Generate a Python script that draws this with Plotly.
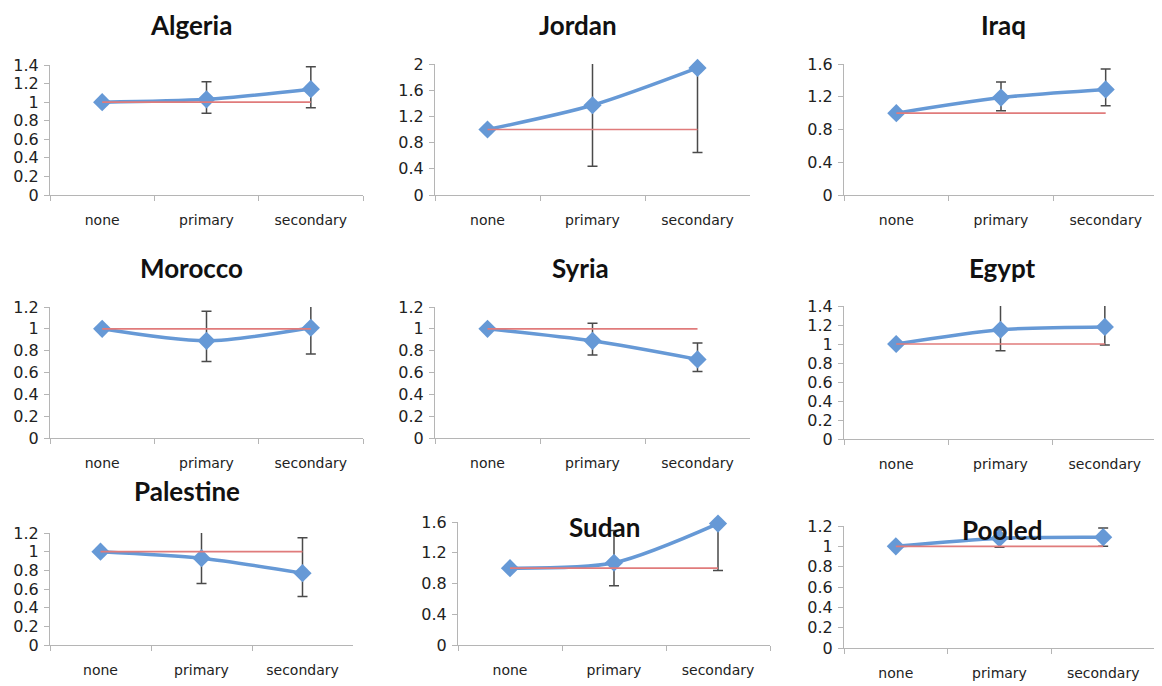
import plotly.graph_objects as go

categories = ["none", "primary", "secondary"]

countries = ["Algeria", "Jordan", "Iraq", "Morocco", "Syria", "Egypt", "Palestine", "Sudan", "Pooled"]

algeria_est = [1.0, 1.03, 1.14]
algeria_lo = [1.0, 0.88, 0.94]
algeria_hi = [1.0, 1.22, 1.38]

jordan_est = [1.0, 1.37, 1.94]
jordan_lo = [1.0, 0.44, 0.65]
jordan_hi = [1.0, 2.3, 2.9]

iraq_est = [1.0, 1.19, 1.29]
iraq_lo = [1.0, 1.03, 1.09]
iraq_hi = [1.0, 1.38, 1.54]

morocco_est = [1.0, 0.89, 1.01]
morocco_lo = [1.0, 0.70, 0.77]
morocco_hi = [1.0, 1.16, 1.32]

syria_est = [1.0, 0.89, 0.72]
syria_lo = [1.0, 0.76, 0.61]
syria_hi = [1.0, 1.05, 0.87]

egypt_est = [1.0, 1.15, 1.18]
egypt_lo = [1.0, 0.93, 0.99]
egypt_hi = [1.0, 1.45, 1.45]

palestine_est = [1.0, 0.93, 0.77]
palestine_lo = [1.0, 0.66, 0.52]
palestine_hi = [1.0, 1.30, 1.15]

sudan_est = [1.0, 1.07, 1.58]
sudan_lo = [1.0, 0.77, 0.97]
sudan_hi = [1.0, 1.49, 2.5]

pooled_est = [1.0, 1.08, 1.09]
pooled_lo = [1.0, 0.99, 1.00]
pooled_hi = [1.0, 1.16, 1.18]

reference = [1.0, 1.0, 1.0]

series = [
    (algeria_est, algeria_lo, algeria_hi),
    (jordan_est, jordan_lo, jordan_hi),
    (iraq_est, iraq_lo, iraq_hi),
    (morocco_est, morocco_lo, morocco_hi),
    (syria_est, syria_lo, syria_hi),
    (egypt_est, egypt_lo, egypt_hi),
    (palestine_est, palestine_lo, palestine_hi),
    (sudan_est, sudan_lo, sudan_hi),
    (pooled_est, pooled_lo, pooled_hi),
]

y_max = [1.4, 2.0, 1.6, 1.2, 1.2, 1.4, 1.2, 1.6, 1.2]
y_step = [0.2, 0.4, 0.4, 0.2, 0.2, 0.2, 0.2, 0.4, 0.2]

# pixel boxes (left, right, top, bottom) for plot areas, in screen pixels
W, H = 1162, 686
OFF = 8  # page body margin
boxes = [
    (50, 363, 65, 195), (435, 750, 64, 195), (844, 1158, 64, 195),
    (50, 363, 307, 438), (435, 750, 307, 438), (844, 1157, 306, 439),
    (50, 353, 533, 645), (458, 770, 522, 645), (844, 1155, 526, 648),
]
title_pos = [
    (191, 25), (578, 25), (1003, 25),
    (191, 268), (580, 268), (1002, 268),
    (187, 491), (604, 527), (1002, 530),
]

BLUE = "#6699d6"
RED = "#e07b7b"
AX = "#b5b5b5"

fig = go.Figure()
layout = dict(
    template="none",
    width=W, height=H, margin=dict(l=0, r=0, t=0, b=0, pad=0, autoexpand=False),
    paper_bgcolor="white", plot_bgcolor="white", showlegend=False,
    annotations=[],
)

for i, name in enumerate(countries):
    est, lo, hi = series[i]
    suf = "" if i == 0 else str(i + 1)
    xa, ya = "x" + suf, "y" + suf
    l, r, t, b = [v - OFF for v in boxes[i]]
    layout["xaxis" + suf] = dict(
        domain=[l / W, r / W], anchor=ya, type="category", automargin=False,
        range=[-0.5, 2.5], showline=True, linecolor=AX, linewidth=1,
        ticks="outside", tickson="boundaries", ticklen=5, tickcolor=AX,
        showgrid=False, zeroline=False, fixedrange=True,
        tickfont=dict(family="DejaVu Sans", size=14, color="#222"),
        ticklabelstandoff=12,
    )
    layout["yaxis" + suf] = dict(
        domain=[1 - b / H, 1 - t / H], anchor=xa, automargin=False,
        range=[0, y_max[i]], dtick=y_step[i], tick0=0,
        showline=True, linecolor=AX, linewidth=1,
        ticks="outside", ticklen=5, tickcolor=AX,
        showgrid=False, zeroline=False, fixedrange=True,
        tickfont=dict(family="DejaVu Sans", size=16, color="#222"),
        ticklabelstandoff=2,
    )
    # error bars (clipped to plot area)
    fig.add_trace(go.Scatter(
        x=categories, y=est, xaxis=xa, yaxis=ya, mode="markers",
        marker=dict(size=0.1, color="rgba(0,0,0,0)"),
        error_y=dict(type="data", symmetric=False,
                     array=[h - e for h, e in zip(hi, est)],
                     arrayminus=[e - lo_ for e, lo_ in zip(est, lo)],
                     color="#4a4a4a", thickness=1.5, width=5),
        cliponaxis=True, hoverinfo="skip",
    ))
    fig.add_trace(go.Scatter(
        x=categories, y=est, xaxis=xa, yaxis=ya, mode="lines+markers",
        line=dict(color=BLUE, width=3.5, shape="spline", smoothing=0.8),
        marker=dict(symbol="diamond", size=14, color=BLUE),
        cliponaxis=False,
    ))
    fig.add_trace(go.Scatter(
        x=categories, y=reference, xaxis=xa, yaxis=ya, mode="lines",
        line=dict(color=RED, width=1.6), cliponaxis=False,
    ))
    tx, ty = title_pos[i]
    layout["annotations"].append(dict(
        text="<b>%s</b>" % name, x=(tx - OFF) / W, y=1 - (ty - OFF) / H,
        xref="paper", yref="paper",
        xanchor="center", yanchor="middle", showarrow=False,
        font=dict(family="Lato", size=26, color="#111"),
    ))

fig.update_layout(**layout)
fig.write_html("out.html")
